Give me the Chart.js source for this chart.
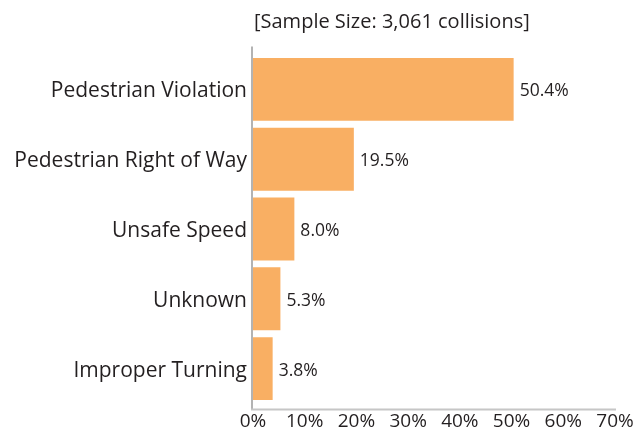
<!DOCTYPE html>
<html>
<head>
<meta charset="utf-8">
<script src="https://cdn.jsdelivr.net/npm/chart.js@4/dist/chart.umd.min.js"></script>
<style>
html,body{margin:0;padding:0;background:#fff;}
#wrap{width:634px;height:430px;position:relative;}
</style>
</head>
<body>
<div id="wrap"><canvas id="c" width="634" height="430"></canvas></div>
<script>
const categories = ["Pedestrian Violation", "Pedestrian Right of Way", "Unsafe Speed", "Unknown", "Improper Turning"];
const shares = [50.4, 19.5, 8.0, 5.3, 3.8];
const xTicks = [0, 10, 20, 30, 40, 50, 60, 70];
const titleText = "[Sample Size: 3,061 collisions]";

const FONT = "'Open Sans', sans-serif";
const TXT = "#231f20";

const overlay = {
  id: 'overlay',
  afterDatasetsDraw(chart) {
    const ctx = chart.ctx, a = chart.chartArea;
    ctx.save();
    ctx.strokeStyle = '#b3b3b3';
    ctx.lineWidth = 2;
    ctx.beginPath();
    ctx.moveTo(a.left - 1, a.top - 8);
    ctx.lineTo(a.left - 1, a.bottom + 6);
    ctx.stroke();
    ctx.strokeStyle = '#c6c6c6';
    ctx.beginPath();
    ctx.moveTo(a.left - 2, a.bottom + 6);
    ctx.lineTo(a.right + 1, a.bottom + 6);
    ctx.stroke();
    ctx.fillStyle = TXT;
    ctx.font = "17.5px " + FONT;
    ctx.textBaseline = 'middle';
    ctx.textAlign = 'left';
    const meta = chart.getDatasetMeta(0);
    meta.data.forEach((bar, i) => {
      ctx.fillText(shares[i].toFixed(1) + '%', bar.x + 6, bar.y + 2);
    });
    ctx.font = "20px " + FONT;
    ctx.fillText(titleText, a.left + 1, 22);
    ctx.restore();
  }
};

new Chart(document.getElementById('c'), {
  type: 'bar',
  data: {
    labels: categories,
    datasets: [{
      data: shares,
      backgroundColor: '#f9af63',
      borderWidth: 0,
      barPercentage: 0.9,
      categoryPercentage: 1.0
    }]
  },
  options: {
    indexAxis: 'y',
    responsive: false,
    animation: false,
    layout: { padding: { top: 54.6, right: 19, bottom: 0, left: 0 } },
    plugins: { legend: { display: false }, tooltip: { enabled: false } },
    scales: {
      x: {
        min: 0, max: 70,
        afterBuildTicks: s => { s.ticks = xTicks.map(v => ({ value: v })); },
        afterFit: s => { s.height = 430 - 403.4; s.paddingRight = 0; s.paddingLeft = 0; },
        grid: { display: false, drawTicks: false },
        border: { display: false },
        ticks: {
          color: TXT,
          font: { family: FONT, size: 19 },
          padding: 7,
          maxRotation: 0,
          callback: v => v + '%'
        }
      },
      y: {
        afterFit: s => { s.width = 253; },
        grid: { display: false, drawTicks: false },
        border: { display: false },
        ticks: {
          color: TXT,
          font: { family: FONT, size: 21 },
          padding: 6,
          labelOffset: 2
        }
      }
    }
  },
  plugins: [overlay]
});
</script>
</body>
</html>
